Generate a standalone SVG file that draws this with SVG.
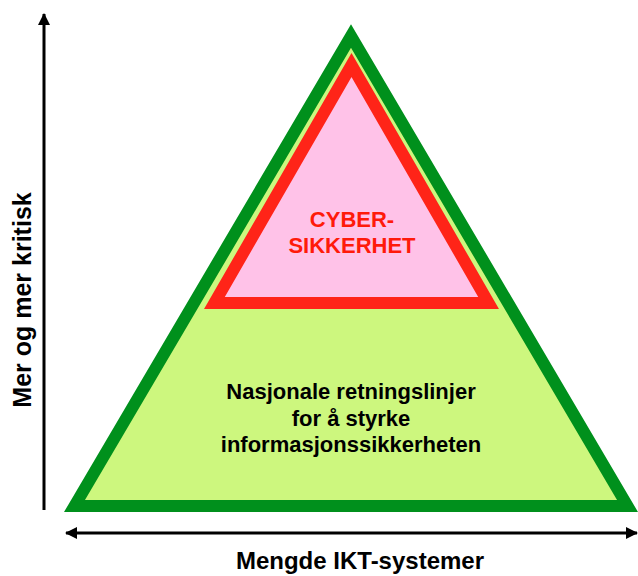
<svg xmlns="http://www.w3.org/2000/svg" width="638" height="576" viewBox="0 0 638 576">
  <style>
    text { font-family: "Liberation Sans", Arial, sans-serif; font-weight: bold; text-anchor: middle; }
    .ax { stroke: #000; stroke-width: 3; fill: none; }
    .lbl { font-size: 24px; fill: #000; }
    .vl { font-size: 25px; fill: #000; }
    .mid { font-size: 22px; fill: #000; }
    .cy { font-size: 22px; fill: #ff1a0a; }
  </style>
  <defs>
    <marker id="ah" viewBox="0 0 12 12" refX="11" refY="6" markerWidth="12" markerHeight="12" markerUnits="userSpaceOnUse" orient="auto-start-reverse">
      <path d="M0,0 L12,6 L0,12 Z" fill="#000"/>
    </marker>
  </defs>
  <g id="connectors">
    <line class="ax" x1="44" y1="510" x2="44" y2="14" marker-end="url(#ah)"/>
    <line class="ax" x1="66" y1="533" x2="637" y2="533" marker-start="url(#ah)" marker-end="url(#ah)"/>
  </g>
  <g id="outer-pyramid">
    <polygon points="74.5,506 351,36 627.5,506" fill="#cdf77e" stroke="#00901c" stroke-width="12" stroke-linejoin="miter"/>
    <text class="mid" x="351" y="399">Nasjonale retningslinjer</text>
    <text class="mid" x="351" y="426">for å styrke</text>
    <text class="mid" x="351" y="452">informasjonssikkerheten</text>
  </g>
  <g id="cyber">
    <polygon points="214.4,303 351.5,65 488.6,303" fill="#ffc2e8" stroke="#ff2418" stroke-width="12" stroke-linejoin="miter"/>
    <text class="cy" x="352" y="227">CYBER-</text>
    <text class="cy" x="352" y="253">SIKKERHET</text>
  </g>
  <g id="y-label">
    <text class="vl" transform="translate(31,300) rotate(-90)">Mer og mer kritisk</text>
  </g>
  <g id="x-label">
    <text class="lbl" x="360" y="569">Mengde IKT-systemer</text>
  </g>
</svg>
